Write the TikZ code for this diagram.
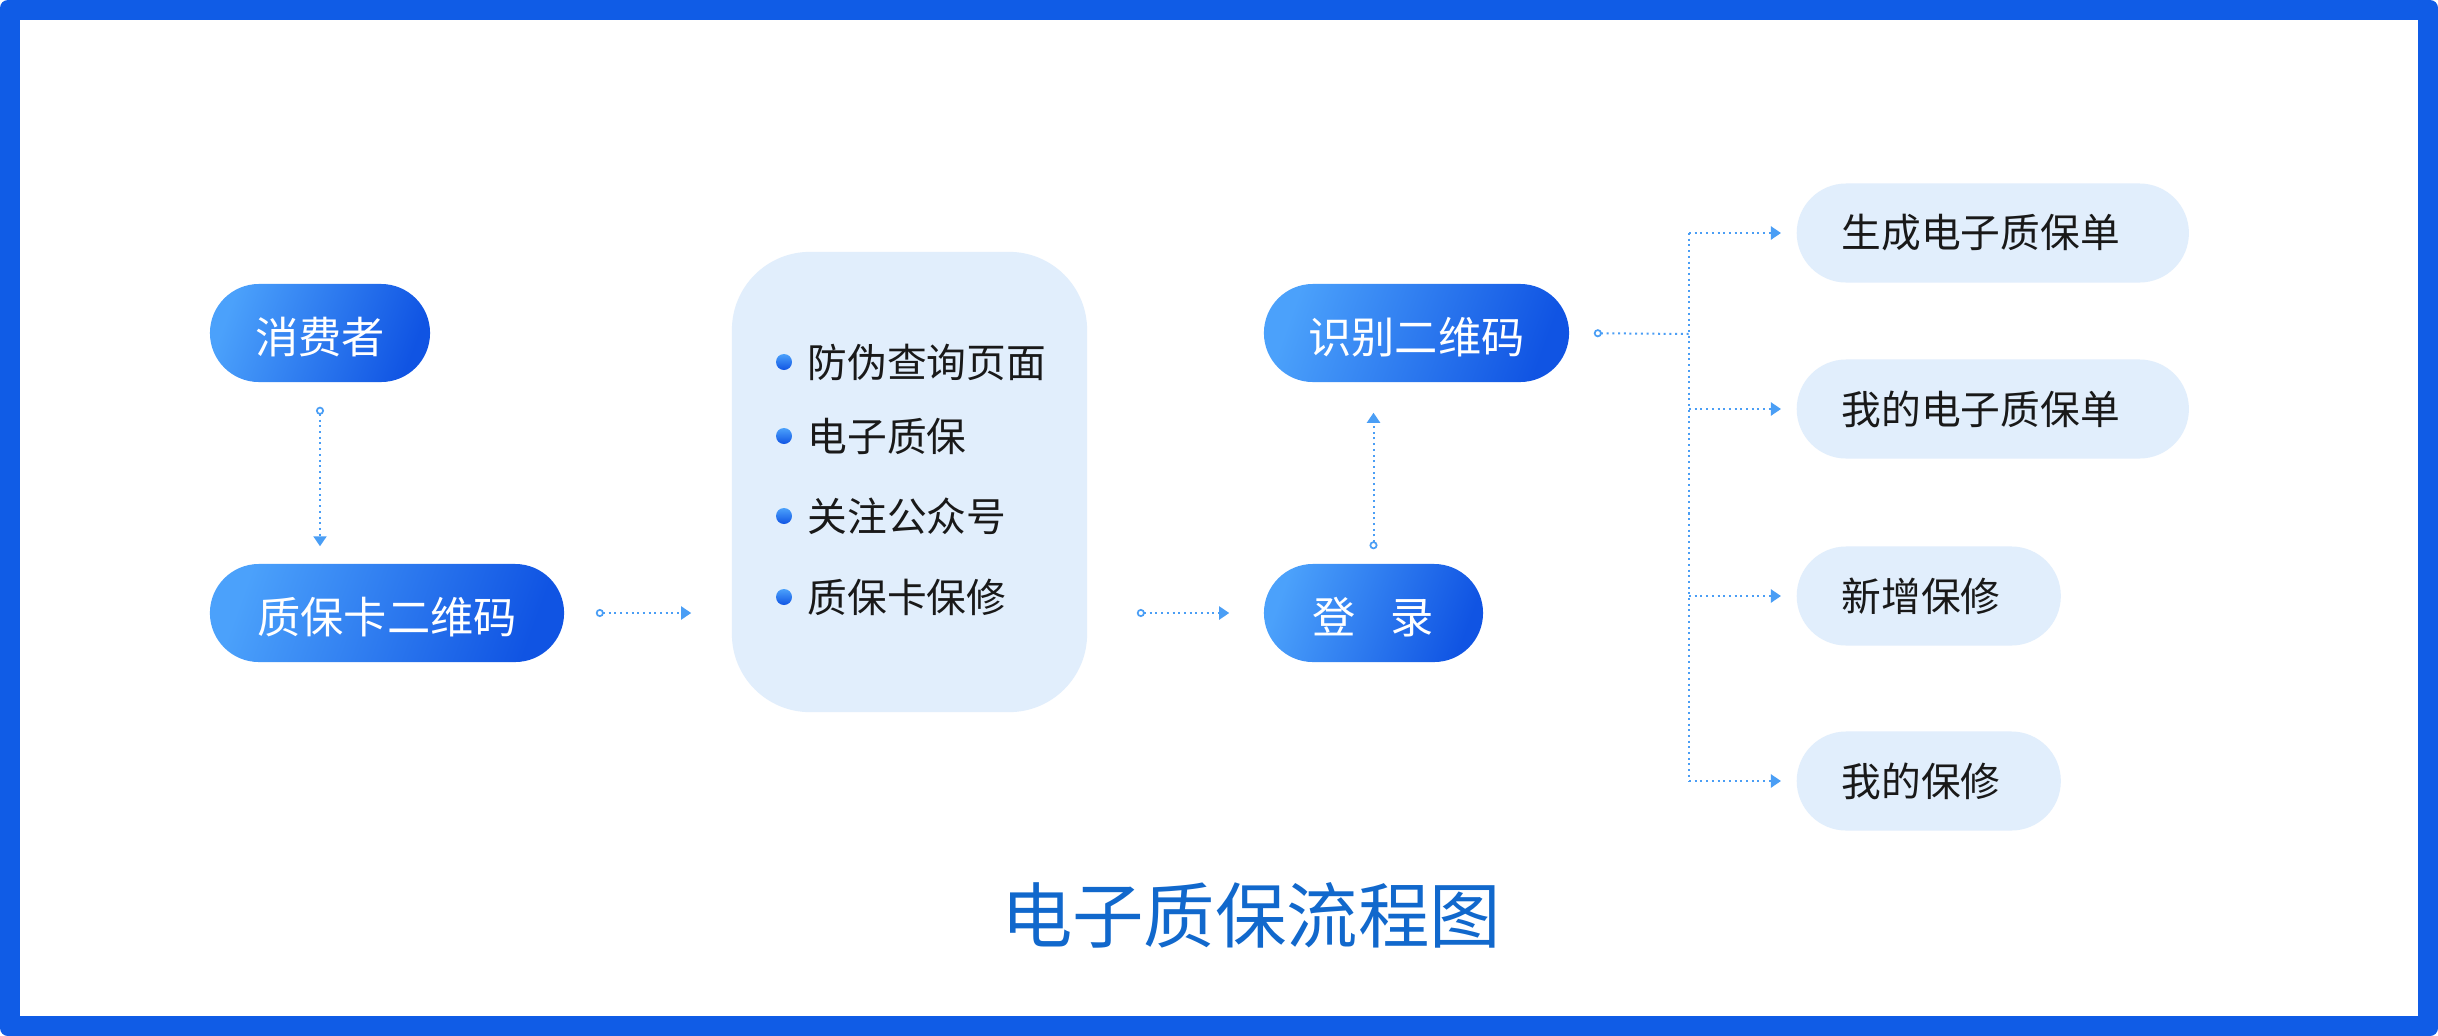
\documentclass[tikz,border=0pt]{standalone}
\usepackage{fontspec}
\setmainfont{Noto Sans CJK SC}
\usetikzlibrary{arrows.meta,positioning}
\definecolor{frameblue}{RGB}{16,92,230}
\definecolor{pillL}{RGB}{75,161,251}
\definecolor{pillR}{RGB}{16,84,227}
\definecolor{paleblue}{RGB}{225,238,252}
\definecolor{linkblue}{RGB}{74,158,245}
\definecolor{titleblue}{RGB}{17,104,204}

\begin{document}
\begin{tikzpicture}[x=0.01cm,y=-0.01cm,
  pill/.style={rounded corners=0.49cm,minimum height=0.98cm,inner sep=0pt,text height=0.42cm,text depth=0.02cm,left color=pillL,right color=pillR,shading angle=70,text=white,font=\fontsize{12.3}{14}\selectfont},
  tag/.style={anchor=west,rounded corners=0.495cm,minimum height=0.99cm,inner xsep=0.45cm,inner ysep=0pt,fill=paleblue,text=black!90,align=left,font=\fontsize{11.3}{13}\selectfont},
  item/.style={anchor=west,inner sep=0pt,font=\fontsize{11.3}{13}\selectfont,text=black!90},
  dot/.style={circle,inner sep=0pt,minimum size=0.16cm,top color=pillL,bottom color=pillR},
  link/.style={linkblue,line width=0.02cm,dash pattern=on 0.02cm off 0.037cm},
  flow/.style={link,{Circle[open,length=0.08cm,line width=0.017cm]}-{Triangle[length=0.1cm,width=0.13cm]}}]
\useasboundingbox (0,0) rectangle (2438,1036);
\fill[frameblue,rounded corners=0.08cm] (0,0) rectangle (2438,1036);
\fill[white] (20,20) rectangle (2418,1016);

\node[pill,minimum width=2.20cm] (consumer) at (320,333) {消费者};
\node[pill,minimum width=3.54cm] (qrcard) at (387,613) {质保卡二维码};
\node[fill=paleblue,rounded corners=0.78cm,minimum width=3.55cm,minimum height=4.60cm] (page) at (909.5,482) {};
\node[pill,minimum width=2.19cm] (login) at (1373.5,613) {登\hspace{0.8em}录};
\node[pill,minimum width=3.05cm] (scan) at (1416.5,333) {识别二维码};

\node[dot] (b1) at (784,362) {};
\node[item] (i1) at (807,362) {防伪查询页面};
\node[dot] (b2) at (784,436) {};
\node[item] (i2) at (807,436) {电子质保};
\node[dot] (b3) at (784,516) {};
\node[item] (i3) at (807,516) {关注公众号};
\node[dot] (b4) at (784,597) {};
\node[item] (i4) at (807,597) {质保卡保修};

\node[tag,text width=3.02cm] (r1) at (1796,233) {生成电子质保单};
\node[tag,text width=3.02cm] (r2) at (1796,409) {我的电子质保单};
\node[tag,text width=1.74cm] (r3) at (1796,596) {新增保修};
\node[tag,text width=1.74cm] (r4) at (1796,781) {我的保修};

\coordinate (fork) at (1689,334);

\draw[flow,shorten <=0.24cm,shorten >=0.17cm] (consumer.south) -- (consumer.south |- qrcard.north);
\draw[flow,shorten <=0.31cm,shorten >=0.40cm] (qrcard.east) -- (qrcard.east -| page.west);
\draw[flow,shorten <=0.49cm,shorten >=0.34cm] (page.east |- login.west) -- (login.west);
\draw[flow,shorten <=0.14cm,shorten >=0.30cm] (login.north) -- (login.north |- scan.south);
\draw[link,{Circle[open,length=0.08cm,line width=0.017cm]}-,shorten <=0.24cm] (scan.east) -- (fork);
\draw[link] (fork |- r1.west) -- (fork |- r4.west);
\draw[link,-{Triangle[length=0.1cm,width=0.13cm]},shorten >=0.15cm] (fork |- r1.west) -- (r1.west);
\draw[link,-{Triangle[length=0.1cm,width=0.13cm]},shorten >=0.15cm] (fork |- r2.west) -- (r2.west);
\draw[link,-{Triangle[length=0.1cm,width=0.13cm]},shorten >=0.15cm] (fork |- r3.west) -- (r3.west);
\draw[link,-{Triangle[length=0.1cm,width=0.13cm]},shorten >=0.15cm] (fork |- r4.west) -- (r4.west);

\node[titleblue,font=\fontsize{20.3}{24}\selectfont] (title) at (1251,915) {电子质保流程图};
\end{tikzpicture}
\end{document}
